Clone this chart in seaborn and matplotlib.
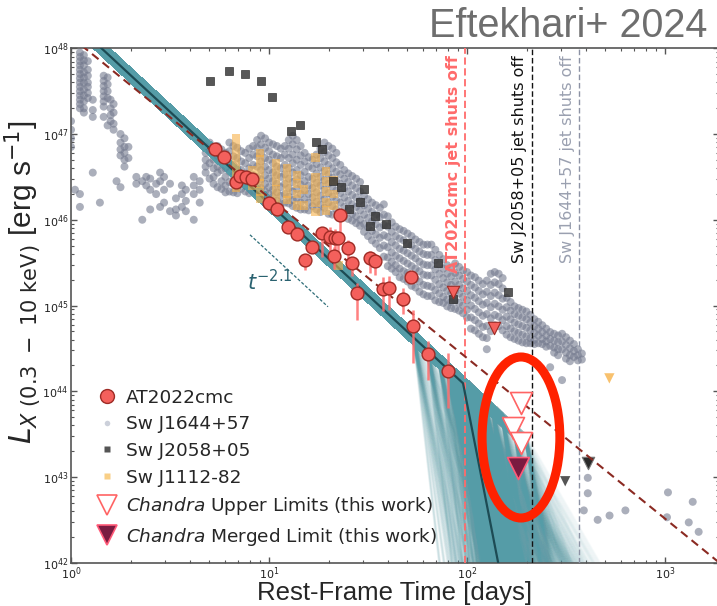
import numpy as np
import pandas as pd
import matplotlib
matplotlib.use("Agg")
import matplotlib.pyplot as plt
from matplotlib.patches import Ellipse
from matplotlib.lines import Line2D
from matplotlib.collections import LineCollection
from matplotlib import font_manager as fm
import seaborn as sns

# ---------------- data (log10 values) ----------------
# AT2022cmc detections
cmc_log_t = [0.727, 0.774, 0.833, 0.854, 0.884, 0.913, 1.002, 1.042, 1.094, 1.140,
             1.183, 1.217, 1.266, 1.308, 1.333, 1.350, 1.359, 1.330, 1.400, 1.421,
             1.446, 1.510, 1.534, 1.577, 1.608, 1.675, 1.719, 1.729, 1.805, 1.903]
cmc_log_L = [46.82, 46.735, 46.44, 46.51, 46.50, 46.47, 46.20, 46.125, 45.92, 45.83,
             45.53, 45.68, 45.84, 45.80, 45.79, 45.79, 46.05, 45.58, 45.67, 45.49,
             45.14, 45.55, 45.52, 45.19, 45.20, 45.08, 45.33, 44.76, 44.43, 44.235]
cmc_err_lo = [0, 0, 0, 0, 0, 0, 0.09, 0.08, 0, 0,
              0.12, 0, 0.27, 0.23, 0.20, 0.20, 0.20, 0.16, 0.15, 0.15,
              0.31, 0.17, 0.17, 0.25, 0.25, 0.18, 0, 0.43, 0.30, 0.43]
cmc_err_hi = [0, 0, 0, 0, 0, 0, 0, 0, 0, 0,
              0.03, 0, 0.08, 0.12, 0.10, 0.08, 0.06, 0.10, 0.09, 0.08,
              0.12, 0.08, 0.08, 0.14, 0.14, 0.12, 0, 0.19, 0.16, 0.21]
cmc_ul_log_t = [1.931, 2.138]
cmc_ul_log_L = [45.16, 44.74]
chandra_log_t = [2.271, 2.234, 2.271]
chandra_log_L = [43.86, 43.57, 43.40]
merged_log_t = [2.259]
merged_log_L = [43.10]

# Sw J2058+05
j2058_log_t = [0.702, 0.798, 0.879, 0.961, 1.015, 1.110, 1.155, 1.236, 1.270, 1.322,
               1.365, 1.481, 1.460, 1.406, 1.537, 1.510, 1.592, 1.695, 1.852, 1.931, 2.206]
j2058_log_L = [47.62, 47.74, 47.70, 47.62, 47.43, 47.03, 47.11, 46.91, 46.83, 46.45,
               46.385, 46.36, 46.21, 46.13, 46.04, 45.93, 45.95, 45.73, 45.50, 45.08, 45.16]
j2058_ul_log_t = [2.613, 2.496]
j2058_ul_log_L = [43.16, 42.95]

# Sw J1112-82 (columns: time, luminosities)
j1112_col_log_t = [0.833, 0.914, 0.955, 1.035, 1.091, 1.141, 1.177, 1.235, 1.288, 1.328, 1.350]
j1112_col_log_L = [[46.95, 46.85, 46.75, 46.65, 46.55, 46.45, 46.38],
                   [46.58, 46.40],
                   [46.78, 46.70, 46.60, 46.50, 46.42, 46.33, 46.25],
                   [46.66, 46.55, 46.45, 46.35, 46.25, 46.15],
                   [46.60, 46.50, 46.40, 46.30, 46.23],
                   [46.52, 46.42, 46.30, 46.17],
                   [46.35, 46.17],
                   [46.73, 46.50, 46.40, 46.30, 46.20, 46.09],
                   [46.56, 46.45, 46.33, 46.20, 46.11],
                   [46.46, 46.30, 46.17],
                   [45.47]]
j1112_ul_log_t = [2.719]
j1112_ul_log_L = [44.15]

# Sw J1644+57 (columns: time, luminosities)
j1644_col_log_t = [
    0.00, 0.02, 0.045, 0.065, 0.085, 0.11, 0.146, 0.165, 0.185, 0.20,
    0.215, 0.23, 0.25, 0.27, 0.29, 0.33, 0.36, 0.38, 0.40, 0.43,
    0.45, 0.47, 0.50, 0.53, 0.56, 0.58, 0.62, 0.65,
    0.68, 0.70, 0.72, 0.74, 0.76, 0.78, 0.80, 0.82, 0.84, 0.86,
    0.88, 0.90, 0.92, 0.94, 0.96, 0.98, 1.00, 1.02, 1.04, 1.06,
    1.08, 1.10, 1.12, 1.14, 1.16, 1.18, 1.20, 1.22, 1.24, 1.26,
    1.28, 1.30, 1.32, 1.34, 1.36, 1.38, 1.40, 1.42, 1.44, 1.46,
    1.48, 1.50, 1.52, 1.54, 1.56, 1.58, 1.60, 1.62, 1.64, 1.66,
    1.68, 1.70, 1.72, 1.74, 1.76, 1.78, 1.80, 1.82, 1.84, 1.86,
    1.88, 1.90, 1.92, 1.94, 1.96, 1.98, 2.00, 2.02, 2.04, 2.06,
    2.08, 2.10, 2.12, 2.14, 2.16, 2.18, 2.20, 2.22, 2.24, 2.26,
    2.28, 2.30, 2.32, 2.34, 2.36, 2.38, 2.40, 2.42, 2.44, 2.46,
    2.48, 2.50, 2.52, 2.54, 2.56, 2.58,
    2.59, 2.61, 2.66, 2.72, 2.80, 3.01, 3.015, 3.12, 3.14, 3.17]
j1644_col_log_L = [
    [47.15, 47.05, 46.95, 46.85], [46.35],
    [47.95, 47.9, 47.85, 47.8, 47.75, 47.7, 47.65, 47.6, 47.55, 47.5, 47.45, 47.4, 47.35, 47.3, 46.3, 46.15],
    [47.92, 47.86, 47.8, 47.72, 47.66, 47.6, 47.52, 47.45, 47.38, 47.3, 47.25],
    [47.85, 47.75, 47.68, 47.6, 47.55, 47.48, 47.42],
    [47.4, 47.28, 47.2, 46.55], [46.2],
    [47.68, 47.62, 47.56, 47.5, 47.44, 47.38, 47.32, 47.2],
    [47.66, 47.58, 47.5, 47.42, 47.1],
    [47.4, 47.3, 47.22, 47.15],
    [47.35, 47.25, 47.12, 47.05], [46.45],
    [47.0, 46.9, 46.82, 46.75, 46.38],
    [46.95, 46.85, 46.78, 46.7, 46.62],
    [46.85, 46.72],
    [46.5, 46.42], [46.0, 46.45], [46.5, 46.4], [46.48, 46.35, 46.12], [46.42, 46.3],
    [46.55, 46.45, 46.15], [46.5, 46.35, 46.2], [46.42, 46.1], [46.25, 46.12, 46.05],
    [46.4, 46.3, 46.15], [46.35, 46.22, 46.1], [46.5, 46.4, 46.3, 46.0], [46.45, 46.35, 46.2],
    [46.86, 46.78, 46.70, 46.62, 46.55],
    [46.90, 46.80, 46.66, 46.48],
    [46.78, 46.70, 46.60, 46.50, 46.42],
    [46.86, 46.74, 46.62, 46.55, 46.38],
    [46.82, 46.68, 46.58, 46.45, 46.36],
    [46.78, 46.70, 46.60, 46.50, 46.40, 46.32],
    [46.90, 46.80, 46.66, 46.56, 46.44, 46.33],
    [46.86, 46.74, 46.64, 46.52, 46.42, 46.32],
    [46.84, 46.72, 46.60, 46.48, 46.38, 46.31],
    [46.80, 46.68, 46.58, 46.46, 46.36],
    [46.78, 46.66, 46.54, 46.44, 46.33],
    [46.83, 46.72, 46.60, 46.50, 46.40, 46.31],
    [46.86, 46.76, 46.64, 46.52, 46.42, 46.32],
    [46.93, 46.84, 46.74, 46.62, 46.50, 46.40, 46.30],
    [46.98, 46.88, 46.78, 46.68, 46.58, 46.47, 46.37, 46.27],
    [46.95, 46.84, 46.72, 46.62, 46.52, 46.42, 46.33, 46.26],
    [46.90, 46.80, 46.70, 46.58, 46.48, 46.38, 46.30, 46.23],
    [46.88, 46.76, 46.66, 46.55, 46.45, 46.35, 46.27, 46.21],
    [46.86, 46.74, 46.62, 46.52, 46.42, 46.32, 46.22],
    [46.83, 46.72, 46.60, 46.50, 46.38, 46.28, 46.19],
    [46.86, 46.76, 46.64, 46.53, 46.42, 46.30, 46.20],
    [46.93, 46.83, 46.72, 46.60, 46.48, 46.37, 46.27, 46.19],
    [46.98, 46.88, 46.76, 46.66, 46.55, 46.44, 46.33, 46.23, 46.16],
    [46.93, 46.82, 46.70, 46.58, 46.47, 46.36, 46.25, 46.14],
    [46.86, 46.75, 46.64, 46.52, 46.41, 46.30, 46.20, 46.12],
    [46.78, 46.68, 46.56, 46.45, 46.34, 46.24, 46.12],
    [46.73, 46.62, 46.50, 46.40, 46.30, 46.20, 46.11],
    [46.70, 46.60, 46.48, 46.37, 46.26, 46.16],
    [46.76, 46.65, 46.54, 46.43, 46.32, 46.21, 46.12],
    [46.83, 46.72, 46.61, 46.50, 46.40, 46.28, 46.18, 46.09],
    [46.90, 46.79, 46.68, 46.57, 46.46, 46.35, 46.24, 46.14],
    [46.86, 46.75, 46.64, 46.53, 46.42, 46.31, 46.20, 46.07],
    [46.83, 46.72, 46.60, 46.49, 46.38, 46.27, 46.16, 46.06],
    [46.78, 46.67, 46.56, 46.45, 46.34, 46.23, 46.12],
    [46.64, 46.53, 46.42, 46.31, 46.20, 46.07],
    [46.58, 46.48, 46.37, 46.26, 46.15, 46.04],
    [46.54, 46.44, 46.33, 46.22, 46.11, 46.01],
    [46.51, 46.40, 46.29, 46.18, 46.07, 45.99],
    [46.48, 46.37, 46.26, 46.15, 46.04, 45.96],
    [46.44, 46.33, 46.22, 46.11, 46.00, 45.93],
    [46.28, 46.17, 46.06, 45.95, 45.86],
    [46.24, 46.13, 46.02, 45.91, 45.81],
    [46.20, 46.09, 45.98, 45.87, 45.76],
    [46.17, 46.06, 45.95, 45.83, 45.72],
    [46.14, 46.03, 45.91, 45.79, 45.67],
    [46.18, 46.06, 45.94, 45.82, 45.70, 45.57],
    [46.04, 45.92, 45.80, 45.68, 45.56, 45.46],
    [45.97, 45.86, 45.74, 45.62, 45.51, 45.43],
    [45.92, 45.81, 45.70, 45.58, 45.47, 45.39],
    [45.89, 45.78, 45.66, 45.55, 45.43, 45.33],
    [45.87, 45.76, 45.64, 45.52, 45.40, 45.31],
    [45.84, 45.72, 45.61, 45.49, 45.38, 45.28],
    [45.81, 45.70, 45.58, 45.46, 45.34, 45.23],
    [45.77, 45.66, 45.55, 45.43, 45.31, 45.21],
    [45.74, 45.63, 45.51, 45.40, 45.28, 45.16],
    [45.71, 45.60, 45.48, 45.36, 45.24, 45.13],
    [45.71, 45.59, 45.47, 45.35, 45.23, 45.11],
    [45.71, 45.59, 45.47, 45.35, 45.22, 45.11],
    [45.65, 45.53, 45.42, 45.30, 45.18, 45.06],
    [45.59, 45.48, 45.37, 45.25, 45.14, 45.04],
    [45.54, 45.43, 45.32, 45.21, 45.10, 45.03],
    [45.47, 45.37, 45.27, 45.17, 45.07, 44.99],
    [45.44, 45.34, 45.24, 45.14, 45.04, 44.97],
    [45.49, 45.38, 45.28, 45.17, 45.06, 44.96],
    [45.45, 45.35, 45.24, 45.14, 45.03, 44.94],
    [45.41, 45.31, 45.20, 45.10, 45.00, 44.91],
    [45.39, 45.28, 45.17, 45.06, 44.95, 44.86],
    [45.35, 45.24, 45.12, 45.00, 44.86, 44.73],
    [45.33, 45.21, 45.09, 44.96, 44.83, 44.71],
    [45.29, 45.17, 45.05, 44.92, 44.79, 44.67],
    [45.25, 45.13, 45.01, 44.88, 44.75, 44.63],
    [45.29, 45.16, 45.03, 44.90, 44.76, 44.62, 44.49],
    [45.37, 45.24, 45.11, 44.98, 44.85, 44.70],
    [45.39, 45.27, 45.15, 45.02, 44.89, 44.77],
    [45.37, 45.25, 45.12, 44.99, 44.87, 44.76],
    [45.32, 45.20, 45.08, 44.95, 44.83, 44.71],
    [45.09, 44.98, 44.87, 44.76, 44.66],
    [45.04, 44.94, 44.84, 44.73, 44.63],
    [44.99, 44.90, 44.80, 44.70, 44.61],
    [44.97, 44.88, 44.78, 44.68, 44.59],
    [44.95, 44.86, 44.76, 44.66, 44.57],
    [44.93, 44.84, 44.74, 44.64, 44.56],
    [44.89, 44.80, 44.71, 44.62, 44.56],
    [44.84, 44.76, 44.68, 44.60, 44.55],
    [44.81, 44.73, 44.65, 44.56],
    [44.77, 44.69, 44.61, 44.55],
    [44.73, 44.65, 44.58, 44.52],
    [44.69, 44.61, 44.53, 44.28],
    [44.67, 44.59, 44.51, 44.45],
    [44.65, 44.57, 44.49, 44.42],
    [44.67, 44.58, 44.49, 44.13],
    [44.63, 44.54, 44.45, 44.38],
    [44.59, 44.50, 44.42, 44.35],
    [44.55, 44.47, 44.40],
    [44.49, 44.42, 44.36],
    [44.44, 44.37],
    [42.61], [42.99, 42.81], [42.5], [42.55], [42.61], [42.53], [42.82],
    [42.47], [42.71], [42.36]]

# broken power-law model samples (fan)
fan_norm_logL = 48.33           # log L at t = 1 d
fan_pre_slope = -2.14
fan_offsets = [-0.08, -0.06, -0.04, -0.02, 0.0, 0.02, 0.04, 0.06, 0.08]
fan_break_log_t = [1.73, 1.80, 1.86, 1.90, 1.92, 1.94, 1.95, 1.96, 1.97, 1.98, 1.99,
                   2.00, 2.01, 2.02, 2.04, 2.06, 2.09, 2.13, 2.18, 2.24, 2.30]
fan_post_slope = [-4.0, -5.0, -6.5, -7.5, -8.5, -9.5, -10.5, -11.0, -11.5, -12.0,
                  -12.5, -13.0, -14.0, -15.0, -17.0, -20.0]
best_break_log_t = 1.98
best_post_slope = -11.8

# reference power law (dashed)
pl_norm_logL = 48.133
pl_slope = -1.873
# t^-2.1 guide
guide_log_t = [0.904, 1.298]
guide_norm_logL = 47.75
guide_slope = -2.13

# jet shut-off times (rest-frame days)
shutoff_cmc = 98.0
shutoff_j2058 = 212.0
shutoff_j1644 = 369.0

# ---------------- style ----------------
sns.set_style("ticks")
plt.rcParams["font.family"] = ["DejaVu Sans"]
plt.rcParams["mathtext.fontset"] = "dejavusans"
names = {f.name for f in fm.fontManager.ttflist}
label_font = "Liberation Sans Narrow" if "Liberation Sans Narrow" in names else "Liberation Sans"

fig = plt.figure(figsize=(7.17, 6.06), dpi=100)
ax = fig.add_axes([71 / 717, (606 - 562.7) / 606, 648 / 717, 514.4 / 606])
ax.set_xscale("log")
ax.set_yscale("log")

gray_c = "#747a8e"
teal_c = "#559ca7"

# Sw J1644+57 cloud
gt, gl = [], []
for t, Ls in zip(j1644_col_log_t, j1644_col_log_L):
    for L in Ls:
        gt.append(t)
        gl.append(L)
df1644 = pd.DataFrame({"t": 10 ** np.array(gt), "L": 10 ** np.array(gl)})
sns.scatterplot(data=df1644, x="t", y="L", ax=ax, s=33, color=gray_c, alpha=0.6,
                edgecolor="none", legend=False, zorder=1)

# fan of model samples
segs = []
for tb in fan_break_log_t:
    for a2 in fan_post_slope:
        for off in fan_offsets:
            Lb = fan_norm_logL + off + fan_pre_slope * tb
            tend = tb + (41.5 - Lb) / a2
            segs.append(np.column_stack([10 ** np.array([0.0, tb, tend]),
                                         10 ** np.array([fan_norm_logL + off, Lb, 41.5])]))
ax.add_collection(LineCollection(segs, colors=teal_c, alpha=0.045, linewidths=1.3, zorder=2))
Lb0 = fan_norm_logL + fan_pre_slope * best_break_log_t
tend0 = best_break_log_t + (41.5 - Lb0) / best_post_slope
ax.plot(10 ** np.array([0.0, best_break_log_t, tend0]),
        10 ** np.array([fan_norm_logL, Lb0, 41.5]), color="#1d4b54", lw=1.6, zorder=4)

# Sw J1112-82
ot, ol = [], []
for t, Ls in zip(j1112_col_log_t, j1112_col_log_L):
    for L in Ls:
        ot.append(t)
        ol.append(L)
sns.scatterplot(x=10 ** np.array(ot), y=10 ** np.array(ol), ax=ax, marker="s", s=40,
                color="#f7b24a", alpha=0.6, edgecolor="none", legend=False, zorder=5)
sns.scatterplot(x=10 ** np.array(j1112_ul_log_t), y=10 ** np.array(j1112_ul_log_L), ax=ax,
                marker="v", s=55, color="#f7b24a", alpha=0.8, edgecolor="none",
                legend=False, zorder=5)

# Sw J2058+05
sns.scatterplot(x=10 ** np.array(j2058_log_t), y=10 ** np.array(j2058_log_L), ax=ax,
                marker="s", s=30, color="#3a3a3a", alpha=0.85, edgecolor="#222222",
                linewidth=0.5, legend=False, zorder=6)
ax.scatter(10 ** j2058_ul_log_t[0], 10 ** j2058_ul_log_L[0], marker="v", s=80,
           color="#2a2a2a", edgecolor="#777777", linewidth=0.8, zorder=6)
ax.scatter(10 ** j2058_ul_log_t[1], 10 ** j2058_ul_log_L[1], marker="v", s=55,
           color="#555555", edgecolor="none", zorder=6)

# reference power law
tt = np.logspace(0, 3.3, 50)
ax.plot(tt, 10 ** (pl_norm_logL + pl_slope * np.log10(tt)), color="#8b2a22", lw=1.5,
        ls=(0, (4, 2.5)), zorder=7)

# t^-2.1 guide
gt2 = np.array(guide_log_t)
ax.plot(10 ** gt2, 10 ** (guide_norm_logL + guide_slope * gt2), color="#2e6d78", lw=0.9,
        ls=(0, (2.5, 1.5)), zorder=7)
ax.text(10 ** 1.005, 10 ** 45.28, r"$t^{-2.1}$", color="#2a6270", fontsize=15,
        ha="center", va="center", zorder=7)

# shut-off lines
ax.axvline(shutoff_cmc, color="#ff6b6b", lw=1.3, ls=(0, (4, 2)), zorder=3)
ax.axvline(shutoff_j2058, color="#111111", lw=1.0, ls=(0, (4, 2)), zorder=3)
ax.axvline(shutoff_j1644, color="#8c92a4", lw=1.0, ls=(0, (4, 2)), zorder=3)
for tx, txt, col, wt in [(shutoff_cmc, "AT2022cmc jet shuts off", "#ff6b6b", "bold"),
                         (shutoff_j2058, "Sw J2058+05 jet shuts off", "#111111", "normal"),
                         (shutoff_j1644, "Sw J1644+57 jet shuts off", "#9aa0b0", "normal")]:
    ax.annotate(txt, xy=(tx, 1.0), xycoords=("data", "axes fraction"),
                xytext=(-3, -5), textcoords="offset points", rotation=90,
                ha="right", va="top", color=col, fontsize=11.5, fontweight=wt, zorder=8)

# AT2022cmc
cl = np.array(cmc_log_L)
Lc = 10 ** cl
yerr = np.vstack([Lc - 10 ** (cl - np.array(cmc_err_lo)), 10 ** (cl + np.array(cmc_err_hi)) - Lc])
ax.errorbar(10 ** np.array(cmc_log_t), Lc, yerr=yerr, fmt="none", ecolor="#ff6b6b",
            elinewidth=1.8, alpha=0.85, capsize=0, zorder=9)
sns.scatterplot(x=10 ** np.array(cmc_log_t), y=Lc, ax=ax, s=85, color="#f4605c",
                edgecolor="#9e2b25", linewidth=1.0, legend=False, zorder=10)
sns.scatterplot(x=10 ** np.array(cmc_ul_log_t), y=10 ** np.array(cmc_ul_log_L), ax=ax,
                marker="v", s=80, color="#f4605c", edgecolor="#9e2b25", linewidth=0.8,
                legend=False, zorder=10)
sns.scatterplot(x=10 ** np.array(chandra_log_t), y=10 ** np.array(chandra_log_L), ax=ax,
                marker="v", s=250, color="white", edgecolor="#ff6464", linewidth=1.2,
                legend=False, zorder=11)
sns.scatterplot(x=10 ** np.array(merged_log_t), y=10 ** np.array(merged_log_L), ax=ax,
                marker="v", s=250, color="#7a1b40", edgecolor="#ff5a78", linewidth=1.2,
                legend=False, zorder=11)

# highlight ellipse
ax.add_patch(Ellipse((0.6944, 0.2434), 0.120, 0.313, transform=ax.transAxes, fill=False,
                     ec="#ff2200", lw=6.5, zorder=20))

# axes
ax.set_xlim(1, 10 ** (648 / 198))
ax.set_ylim(1e42, 1e48)
for s in ax.spines.values():
    s.set_color("#555555")
    s.set_linewidth(1.2)
ax.tick_params(which="both", direction="in", top=True, right=True, colors="#555555",
               labelcolor="#222222", labelsize=8, pad=2)
ax.tick_params(which="major", length=4, width=1)
ax.tick_params(which="minor", length=2.5, width=0.8)

ax.set_xlabel("Rest-Frame Time [days]", fontsize=18.5, family=label_font)
ax.xaxis.set_label_coords(0.5, -0.036)
ax.xaxis.label.set_va("top")
ax.set_ylabel("")

fig.text(23 / 717, 1 - 282 / 606, r"$L_{X\ (0.3\ -\ 10\ \mathrm{keV})}$ [erg s$^{-1}$]",
         rotation=90, ha="center", va="center", fontsize=21.5, family=label_font)

fig.text(0.987, 0.957, "Eftekhari+ 2024", ha="right", va="center", fontsize=28.5,
         color="#6e6e6e", family="Liberation Sans")

handles = [
    Line2D([], [], ls="none", marker="o", ms=10, mfc="#f4605c", mec="#9e2b25", mew=1.0),
    Line2D([], [], ls="none", marker="o", ms=4, mfc="#ccd0da", mec="none"),
    Line2D([], [], ls="none", marker="s", ms=5, mfc="#555555", mec="none"),
    Line2D([], [], ls="none", marker="s", ms=5, mfc="#f9cf86", mec="none"),
    Line2D([], [], ls="none", marker="v", ms=14, mfc="white", mec="#ff6464", mew=1.2),
    Line2D([], [], ls="none", marker="v", ms=14, mfc="#7a1b40", mec="#ff5a78", mew=1.2),
]
labels = ["AT2022cmc", "Sw J1644+57", "Sw J2058+05", "Sw J1112-82",
          r"$\it{Chandra}$ Upper Limits (this work)", r"$\it{Chandra}$ Merged Limit (this work)"]
leg = ax.legend(handles, labels, loc="upper left", bbox_to_anchor=(0.030, 0.353),
                frameon=False, fontsize=13.3, handlelength=1.0, handletextpad=0.5,
                labelspacing=0.47, borderpad=0.4, borderaxespad=0)
leg.set_zorder(30)

fig.savefig("out.png", dpi=100)
